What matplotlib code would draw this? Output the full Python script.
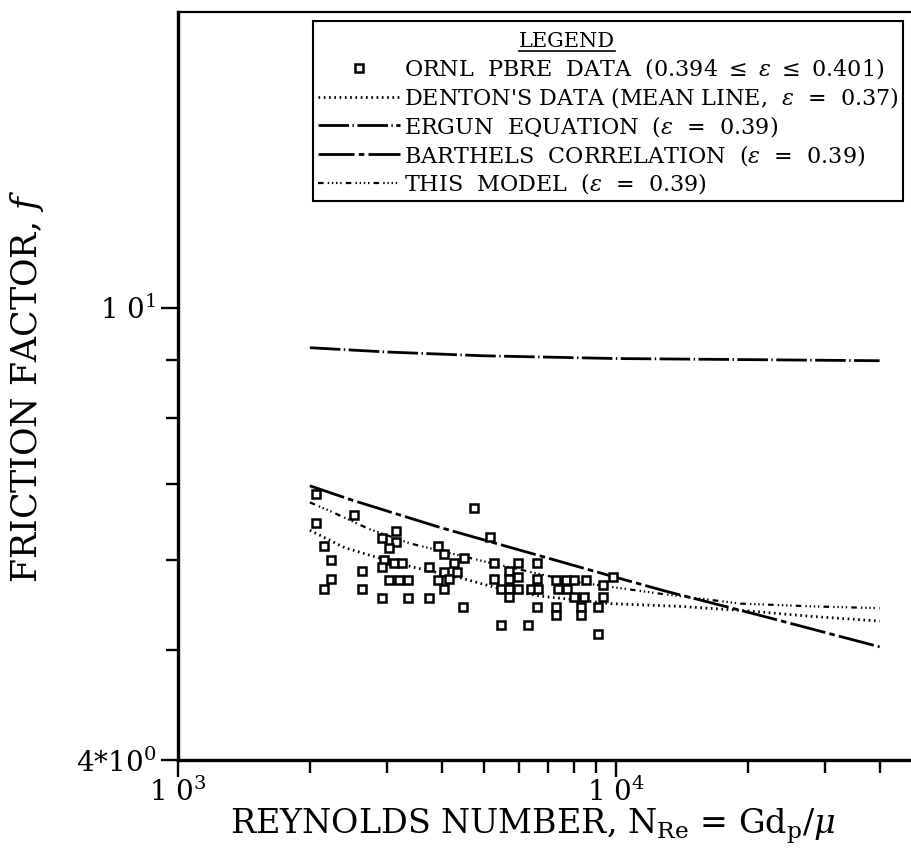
import matplotlib
matplotlib.use("Agg")
import matplotlib.pyplot as plt
from matplotlib.lines import Line2D
from matplotlib.ticker import NullFormatter

# ORNL PBRE data points (Reynolds number, friction factor)
ornl_re = [2070, 2520, 2070, 3150, 4740, 2150, 2230, 2240, 2150, 2630,
           2630, 2920, 3150, 3030, 2950, 2920, 3110, 3250, 3030, 3200,
           3350, 2920, 3350, 3740, 3740, 3920, 4050, 4270, 4500, 4050,
           4160, 4340, 3920, 4050, 4470, 5160, 5270, 5980, 6600, 5700,
           5700, 5270, 5470, 5700, 5980, 5700, 5980, 6600, 6400, 6640,
           5470, 6300, 6600, 7300, 7690, 8020, 8540, 9340, 7370, 7730,
           7300, 7300, 8020, 8450, 8320, 8320, 9340, 9100, 9850, 9100]
ornl_f = [6.86, 6.57, 6.46, 6.36, 6.67, 6.17, 6.00, 5.77, 5.66, 5.86,
          5.65, 6.27, 6.22, 6.15, 6.00, 5.91, 5.96, 5.96, 5.76, 5.76,
          5.76, 5.55, 5.55, 5.55, 5.91, 6.17, 6.07, 5.96, 6.02, 5.85,
          5.77, 5.85, 5.76, 5.65, 5.45, 6.28, 5.96, 5.96, 5.96, 5.86,
          5.77, 5.77, 5.66, 5.66, 5.66, 5.56, 5.80, 5.77, 5.65, 5.65,
          5.26, 5.26, 5.45, 5.76, 5.76, 5.76, 5.76, 5.70, 5.65, 5.65,
          5.45, 5.36, 5.56, 5.56, 5.45, 5.36, 5.56, 5.45, 5.80, 5.16]

denton_re = [2000, 2400, 2800, 3450, 4450, 5500, 6850, 9750, 14000, 20000, 28000, 40000]
denton_f = [6.37, 6.15, 6.04, 5.91, 5.78, 5.65, 5.57, 5.49, 5.46, 5.41, 5.35, 5.30]

ergun_re = [2000, 3000, 5000, 10000, 20000, 40000]
ergun_f = [9.22, 9.14, 9.07, 9.02, 9.00, 8.98]

barthels_re = [2000, 2500, 4000, 6300, 10000, 13000, 21000, 40000]
barthels_f = [6.97, 6.77, 6.40, 6.09, 5.79, 5.63, 5.37, 5.03]

model_re = [2000, 2270, 2720, 3400, 5190, 8000, 12700, 19300, 28000, 40000]
model_f = [6.74, 6.60, 6.39, 6.20, 5.96, 5.74, 5.60, 5.49, 5.46, 5.44]

labels = [r"ORNL  PBRE  DATA  (0.394 $\leq$ $\varepsilon$ $\leq$ 0.401)",
          r"DENTON'S DATA (MEAN LINE,  $\varepsilon$  =  0.37)",
          r"ERGUN  EQUATION  ($\varepsilon$  =  0.39)",
          r"BARTHELS  CORRELATION  ($\varepsilon$  =  0.39)",
          r"THIS  MODEL  ($\varepsilon$  =  0.39)"]

plt.rcParams["font.family"] = ["DejaVu Serif"]
plt.rcParams["mathtext.fontset"] = "dejavuserif"
plt.rcParams["lines.scale_dashes"] = False

fig = plt.figure(figsize=(9.12, 8.63), dpi=100)
ax = fig.add_axes([0.1952, 0.1194, 0.8158, 0.8667])
ax.set_xscale("log")
ax.set_yscale("log")

h_ornl, = ax.plot(ornl_re, ornl_f, ls="none", marker="s", ms=5.5, mew=1.8,
                  mfc="white", mec="black", label=labels[0], zorder=3)
h_den, = ax.plot(denton_re, denton_f, color="black", lw=2,
                 ls=(0, (1.2, 2.6)), label=labels[1])
h_erg, = ax.plot(ergun_re, ergun_f, color="black", lw=2,
                 ls=(0, (22, 2.5, 1, 2.5)), label=labels[2])
h_bar, = ax.plot(barthels_re, barthels_f, color="black", lw=2,
                 ls=(0, (26, 3, 4, 3)), label=labels[3])
h_mod, = ax.plot(model_re, model_f, color="black", lw=1.6,
                 ls=(0, (4, 3, 1, 2, 1, 2, 1, 2, 1, 3)), label=labels[4])

ax.set_xlim(1e3, 5e4)
ax.set_ylim(4, 18.2)

ax.set_xticks([1e3, 1e4], labels=["1 0$^{3}$", "1 0$^{4}$"])
ax.set_xticks([2e3, 3e3, 4e3, 5e3, 6e3, 7e3, 8e3, 9e3, 2e4, 3e4, 4e4], minor=True)
ax.set_yticks([4, 10], labels=["4*10$^{0}$", "1 0$^{1}$"])
ax.set_yticks([5, 6, 7, 8, 9], minor=True)
ax.xaxis.set_minor_formatter(NullFormatter())
ax.yaxis.set_minor_formatter(NullFormatter())

ax.tick_params(which="both", direction="out", width=1.7, labelsize=20,
               top=False, right=False)
ax.tick_params(which="major", length=12, pad=4)
ax.tick_params(axis="x", which="major", pad=1)
ax.tick_params(which="minor", length=9)

for side in ["left", "bottom"]:
    ax.spines[side].set_linewidth(2.4)
ax.spines["top"].set_linewidth(1.6)

ax.set_xlabel(r"REYNOLDS NUMBER, N$_{\rm Re}$ = Gd$_{\rm p}$/$\mu$", fontsize=24)
ax.set_ylabel(r"FRICTION FACTOR, $f$", fontsize=25)
ax.xaxis.set_label_coords(0.477, -0.062)
ax.yaxis.set_label_coords(-0.178, 0.5)

leg = ax.legend(handles=[h_ornl, h_den, h_erg, h_bar, h_mod], title=" ",
                loc="upper left", bbox_to_anchor=(0.1815, 0.988),
                borderaxespad=0, fontsize=16, title_fontsize=20,
                numpoints=1, handlelength=3.7, handletextpad=0.2,
                labelspacing=0.17, borderpad=0.2, fancybox=False,
                framealpha=1, edgecolor="black")
leg.get_frame().set_linewidth(1.5)

title = ax.text(0.523, 0.960, "LEGEND", transform=ax.transAxes,
                ha="center", va="center", fontsize=15, zorder=10)

# underline the legend title
fig.canvas.draw()
bb = title.get_window_extent().transformed(fig.transFigure.inverted())
fig.add_artist(Line2D([bb.x0, bb.x1], [bb.y0 + 0.001, bb.y0 + 0.001],
                      color="black", lw=1.2, zorder=10))

fig.savefig("out.png", dpi=100)
